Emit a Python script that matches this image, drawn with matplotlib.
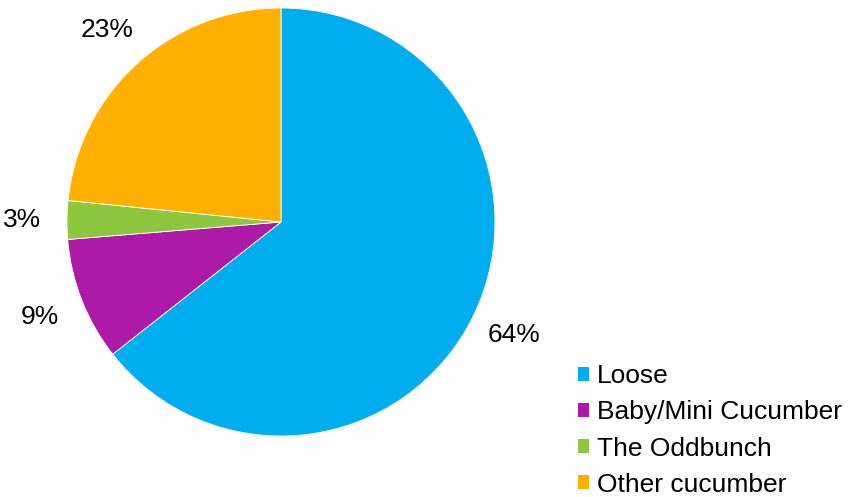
import matplotlib
matplotlib.use("Agg")
import matplotlib.pyplot as plt
from matplotlib.patches import Patch

plt.rcParams["font.family"] = ["Liberation Sans", "DejaVu Sans"]

# share of cucumber sales by type (%)
categories = ["Loose", "Baby/Mini Cucumber", "The Oddbunch", "Other cucumber"]
shares = [64.4, 9.3, 2.9, 23.4]
colors = ["#00AEEF", "#AE1AA8", "#8DC63F", "#FFB000"]

W, H = 848, 497
fig = plt.figure(figsize=(W / 100, H / 100), dpi=100)
ax = fig.add_axes([0, 0, 1, 1])

wedges, _, autotexts = ax.pie(
    shares,
    colors=colors,
    startangle=90,
    counterclock=False,
    center=(281, H - 222),
    radius=214,
    autopct="%.0f%%",
    pctdistance=1.21,
    wedgeprops=dict(edgecolor="white", linewidth=0.6),
    textprops=dict(fontsize=19, color="black"),
)

ax.set_xlim(0, W)
ax.set_ylim(0, H)
ax.set_aspect("equal")
ax.axis("off")

handles = [Patch(facecolor=c, edgecolor="none") for c in colors]
fig.legend(
    handles, categories,
    loc="lower left", bbox_to_anchor=(577 / W, -1 / H),
    frameon=False, fontsize=19,
    handlelength=0.42, handleheight=0.42, handletextpad=0.3,
    labelspacing=0.46, borderpad=0.05, borderaxespad=0,
)

fig.savefig("out.png", dpi=100)
